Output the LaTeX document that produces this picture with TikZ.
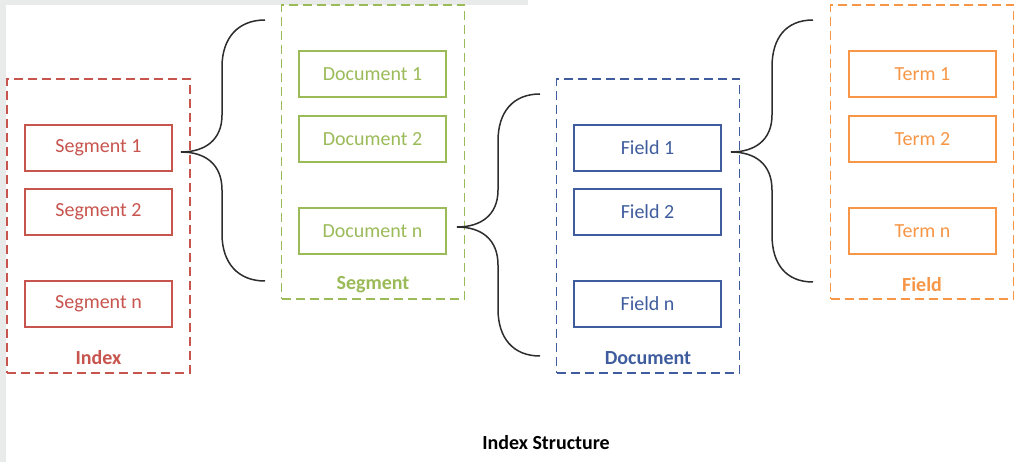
\documentclass[tikz,border=0pt]{standalone}
\usepackage{fontspec}
\setmainfont{Carlito}
\definecolor{cred}{RGB}{200,84,78}
\definecolor{cgreen}{RGB}{155,187,89}
\definecolor{cblue}{RGB}{63,93,158}
\definecolor{corange}{RGB}{247,150,70}
\definecolor{cstrip}{RGB}{232,235,234}
\definecolor{cbrace}{RGB}{45,45,45}
\begin{document}
\begin{tikzpicture}[x=1pt,y=-1pt,
  every node/.style={font=\fontsize{20}{24}\selectfont, inner sep=0pt},
  item/.style={draw, line width=1.5pt, minimum width=147pt, minimum height=46pt},
  group/.style={draw, dashed, dash pattern=on 9pt off 5pt, line width=1.4pt, minimum width=183pt, minimum height=294pt},
  grouplabel/.style={font=\fontsize{20}{24}\selectfont\bfseries},
  bracepath/.style={draw=cbrace, line width=1.5pt}]
% background and margins
\fill[white] (0,0) rectangle (1020,462);
\fill[cstrip] (0,0) rectangle (6,462);
\fill[cstrip] (0,0) rectangle (528,5);
% Index
\node[group, draw=cred] (index) at (98.5,226) {};
\node[item, draw=cred, text=cred] (s1) at (98.5,148) {Segment 1};
\node[item, draw=cred, text=cred] (s2) at (98.5,212) {Segment 2};
\node[item, draw=cred, text=cred] (sn) at (98.5,304) {Segment n};
\node[grouplabel, text=cred] (lindex) at (98.5,358) {Index};
% Segment
\node[group, draw=cgreen] (segment) at (373,152) {};
\node[item, draw=cgreen, text=cgreen] (d1) at (372.5,74) {Document 1};
\node[item, draw=cgreen, text=cgreen] (d2) at (372.5,139) {Document 2};
\node[item, draw=cgreen, text=cgreen] (dn) at (372.5,231) {Document n};
\node[grouplabel, text=cgreen] (lsegment) at (373,285) {Segment};
% Document
\node[group, draw=cblue] (document) at (648,226) {};
\node[item, draw=cblue, text=cblue] (f1) at (647.5,148) {Field 1};
\node[item, draw=cblue, text=cblue] (f2) at (647.5,212) {Field 2};
\node[item, draw=cblue, text=cblue] (fn) at (647.5,304) {Field n};
\node[grouplabel, text=cblue] (ldocument) at (648,358) {Document};
% Field
\node[group, draw=corange] (field) at (922,152) {};
\node[item, draw=corange, text=corange] (t1) at (922.5,74) {Term 1};
\node[item, draw=corange, text=corange] (t2) at (922.5,139) {Term 2};
\node[item, draw=corange, text=corange] (tn) at (922.5,231) {Term n};
\node[grouplabel, text=corange] (lfield) at (922,285) {Field};
% title
\node[grouplabel, text=black] (title) at (546,443) {Index Structure};
% braces
\coordinate (b1tip) at (181,152);
\coordinate (b1top) at (265,20);
\coordinate (b1bot) at (265,281);
\path[bracepath] (b1top) .. controls (238,20) and (222,38) .. (222,67) -- (222,115)
  .. controls (222,140) and (205,152) .. (b1tip)
  .. controls (205,152) and (222,164) .. (222,190) -- (222,234)
  .. controls (222,263) and (238,281) .. (b1bot);
\coordinate (b2tip) at (457,227);
\coordinate (b2top) at (540,94);
\coordinate (b2bot) at (540,356);
\path[bracepath] (b2top) .. controls (513,94) and (498,112) .. (498,141) -- (498,190)
  .. controls (498,215) and (481,227) .. (b2tip)
  .. controls (481,227) and (498,239) .. (498,265) -- (498,309)
  .. controls (498,338) and (513,356) .. (b2bot);
\coordinate (b3tip) at (731,152);
\coordinate (b3top) at (813,20);
\coordinate (b3bot) at (813,282);
\path[bracepath] (b3top) .. controls (786,20) and (772,38) .. (772,67) -- (772,115)
  .. controls (772,140) and (755,152) .. (b3tip)
  .. controls (755,152) and (772,164) .. (772,190) -- (772,235)
  .. controls (772,264) and (786,282) .. (b3bot);
\end{tikzpicture}
\end{document}
